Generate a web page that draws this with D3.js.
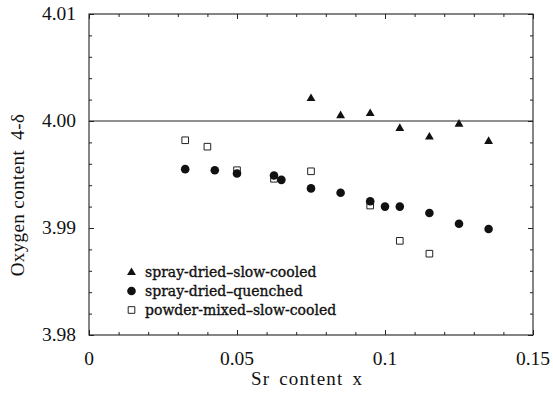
<!DOCTYPE html>
<html><head><meta charset="utf-8">
<script src="https://cdn.jsdelivr.net/npm/d3@7"></script>
<style>body{margin:0;background:#fff}svg{display:block}</style>
</head><body>
<svg id="c" width="553" height="395"></svg>
<script>
const xTicks = [0, 0.05, 0.1, 0.15];
const xTickLabels = ["0", "0.05", "0.1", "0.15"];
const yTicks = [3.98, 3.99, 4.00, 4.01];
const yTickLabels = ["3.98", "3.99", "4.00", "4.01"];

const triX = [0.075, 0.085, 0.095, 0.105, 0.115, 0.125, 0.135];
const triY = [4.0021, 4.0005, 4.0007, 3.9993, 3.9985, 3.9997, 3.9981];

const cirX = [0.0325, 0.0425, 0.05, 0.0625, 0.065, 0.075, 0.085, 0.095, 0.1, 0.105, 0.115, 0.125, 0.135];
const cirY = [3.9955, 3.9954, 3.9951, 3.9949, 3.9945, 3.9937, 3.9933, 3.9925, 3.9920, 3.9920, 3.9914, 3.9904, 3.9899];

const sqX = [0.0325, 0.04, 0.05, 0.0625, 0.075, 0.095, 0.105, 0.115];
const sqY = [3.9982, 3.9976, 3.9954, 3.9946, 3.9953, 3.9921, 3.9888, 3.9876];

const legendLabels = ["spray-dried\u2013slow-cooled", "spray-dried\u2013quenched", "powder-mixed\u2013slow-cooled"];

const svg = d3.select("#c");
const L = 89, R = 533, T = 14, B = 335;
const x = d3.scaleLinear().domain([0, 0.15]).range([L, R]);
const y = d3.scaleLinear().domain([3.98, 4.01]).range([B, T]);
const ink = "#222";
const serif = "'Liberation Serif', 'Times New Roman', serif";

const xMinor = d3.range(0, 16).map(i => i / 100);
const yMinor = d3.range(0, 16).map(i => 3.98 + i * 0.002);

// axes (ticks inward)
function axis(gen, tr, major, minor) {
  const g = svg.append("g").attr("transform", tr);
  g.call(gen.tickValues(minor).tickSize(3).tickFormat(""));
  g.selectAll(".domain").remove();
  const g2 = svg.append("g").attr("transform", tr);
  g2.call(gen.tickValues(major).tickSize(5).tickFormat(""));
  g2.selectAll(".domain").remove();
  svg.selectAll("g line").attr("stroke", ink).attr("stroke-width", 1);
}
axis(d3.axisTop(x), `translate(0,${B})`, xTicks, xMinor);
axis(d3.axisBottom(x), `translate(0,${T})`, xTicks, xMinor);
axis(d3.axisRight(y), `translate(${L},0)`, yTicks, yMinor);
axis(d3.axisLeft(y), `translate(${R},0)`, yTicks, yMinor);

svg.append("rect").attr("x", L).attr("y", T).attr("width", R - L).attr("height", B - T)
  .attr("fill", "none").attr("stroke", ink).attr("stroke-width", 1.1);

// horizontal line at 4.00
svg.append("line").attr("x1", L).attr("x2", R).attr("y1", y(4.00)).attr("y2", y(4.00))
  .attr("stroke", ink).attr("stroke-width", 1.1);

// tick labels
svg.append("g").selectAll("text").data(xTicks).join("text")
  .attr("x", d => x(d)).attr("y", 365).attr("text-anchor", "middle")
  .attr("font-family", serif).attr("font-size", 19.5).attr("fill", "#111")
  .text((d, i) => xTickLabels[i]);
svg.append("g").selectAll("text").data(yTicks).join("text")
  .attr("x", 76).attr("y", d => y(d) + 5.5).attr("text-anchor", "end")
  .attr("font-family", serif).attr("font-size", 19.5).attr("fill", "#111")
  .text((d, i) => yTickLabels[i]);

// axis titles
svg.append("text").attr("x", 307).attr("y", 385).attr("text-anchor", "middle")
  .attr("font-family", serif).attr("font-size", 19).attr("fill", "#111")
  .attr("letter-spacing", 1.2).attr("word-spacing", 3).text("Sr content x");
svg.append("text").attr("transform", "translate(24,195) rotate(-90)").attr("text-anchor", "middle")
  .attr("font-family", serif).attr("font-size", 19).attr("fill", "#111")
  .attr("letter-spacing", 0.4)
  .attr("xml:space", "preserve").text("Oxygen content  4-\u03b4");

// markers
const triSym = d3.symbol().type(d3.symbolTriangle).size(34);
const sqSym = d3.symbol().type(d3.symbolSquare).size(44);

svg.append("g").selectAll("path").data(sqX).join("path")
  .attr("transform", (d, i) => `translate(${x(d)},${y(sqY[i])})`)
  .attr("d", sqSym()).attr("fill", "#fff").attr("stroke", ink).attr("stroke-width", 1);
svg.append("g").selectAll("circle").data(cirX).join("circle")
  .attr("cx", d => x(d)).attr("cy", (d, i) => y(cirY[i])).attr("r", 4.3).attr("fill", "#111");
svg.append("g").selectAll("path").data(triX).join("path")
  .attr("transform", (d, i) => `translate(${x(d)},${y(triY[i])})`)
  .attr("d", triSym()).attr("fill", "#111");

// legend
const ly = [272.5, 291, 310];
const lg = svg.append("g");
lg.append("path").attr("transform", `translate(131.5,${ly[0]})`).attr("d", triSym()).attr("fill", "#111");
lg.append("circle").attr("cx", 131.5).attr("cy", ly[1]).attr("r", 4.3).attr("fill", "#111");
lg.append("path").attr("transform", `translate(131.5,${ly[2]})`).attr("d", sqSym()).attr("fill", "#fff").attr("stroke", ink);
lg.selectAll("text").data(legendLabels).join("text")
  .attr("x", 145).attr("y", (d, i) => ly[i] + 4.5)
  .attr("font-family", "'DejaVu Serif', serif").attr("font-size", 14).attr("font-weight", "normal")
  .attr("stroke", "#111").attr("stroke-width", 0.35)
  .attr("fill", "#111").text(d => d);
</script>
</body></html>
